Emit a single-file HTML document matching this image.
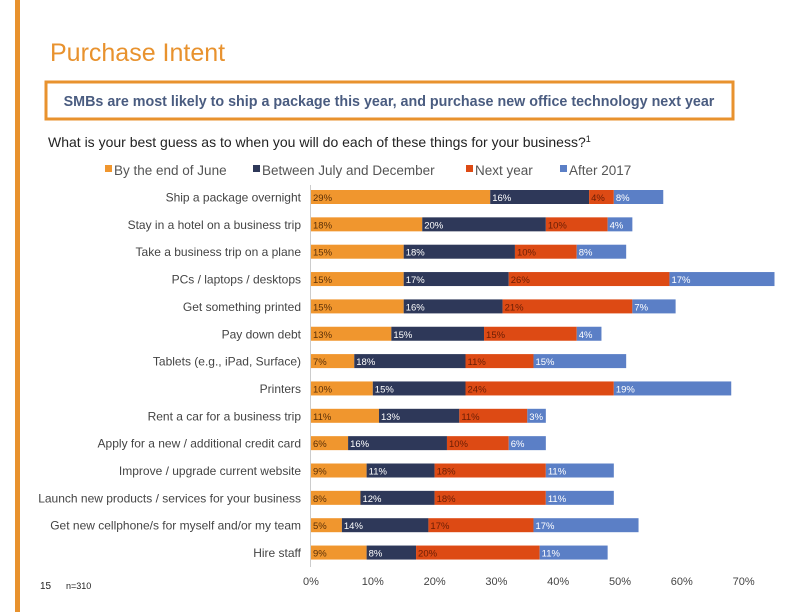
<!DOCTYPE html>
<html><head><meta charset="utf-8"><style>
body{margin:0;background:#fff;}
svg{display:block;font-family:"Liberation Sans",sans-serif;}
</style></head><body>
<svg id="c" width="792" height="612" xmlns="http://www.w3.org/2000/svg">
<rect x="15" y="0" width="5" height="612" fill="#E8922E"/>
<text x="50" y="61" font-size="25" fill="#E8922E">Purchase Intent</text>
<rect x="46" y="82" width="687" height="37" fill="none" stroke="#E8922E" stroke-width="3"/>
<text x="389" y="106" font-size="14.3" font-weight="bold" fill="#4A5C80" text-anchor="middle">SMBs are most likely to ship a package this year, and purchase new office technology next year</text>
<text x="48" y="147" font-size="14" fill="#222">What is your best guess as to when you will do each of these things for your business?<tspan font-size="9" dy="-5">1</tspan></text>
<g id="legend"></g>
<g id="bars"></g>
<line x1="310.5" y1="185" x2="310.5" y2="567" stroke="#ccc"/>
<g id="xt"></g>
<text x="40" y="589" font-size="10" fill="#222">15</text>
<text x="66" y="589" font-size="9" fill="#222">n=310</text>
</svg>
<script>
const categories=["Ship a package overnight","Stay in a hotel on a business trip","Take a business trip on a plane","PCs / laptops / desktops","Get something printed","Pay down debt","Tablets (e.g., iPad, Surface)","Printers","Rent a car for a business trip","Apply for a new / additional credit card","Improve / upgrade current website","Launch new products / services for your business","Get new cellphone/s for myself and/or my team","Hire staff"];
const seriesNames=["By the end of June","Between July and December","Next year","After 2017"];
const byJune=[29,18,15,15,15,13,7,10,11,6,9,8,5,9];
const julDec=[16,20,18,17,16,15,18,15,13,16,11,12,14,8];
const nextYear=[4,10,10,26,21,15,11,24,11,10,18,18,17,20];
const after2017=[8,4,8,17,7,4,15,19,3,6,11,11,17,11];
const xTicks=[0,10,20,30,40,50,60,70];
const colors=["#F0962E","#2E3859","#DD4A14","#5B7FC6"];
const txtColors=["#5a3008","#fff","#6a1e05","#fff"];
const NS="http://www.w3.org/2000/svg";
const x=v=>311+v*6.18;
const y=i=>197+i*27.35;
const series=[byJune,julDec,nextYear,after2017];
const bars=document.getElementById('bars');
function mk(t,a,p){const e=document.createElementNS(NS,t);for(const k in a)e.setAttribute(k,a[k]);p.appendChild(e);return e;}
categories.forEach((c,i)=>{
  const lb=mk('text',{x:301,y:y(i)+4.5,'font-size':12,fill:'#444','text-anchor':'end'},bars);
  lb.textContent=c;
  
  
  let acc=0;
  series.forEach((s,k)=>{
    const v=s[i];
    const r=mk('rect',{x:x(acc),y:y(i)-7,width:x(acc+v)-x(acc),height:14,fill:colors[k]},bars);
    
    
    const t=mk('text',{x:x(acc)+2,y:y(i)+4,'font-size':9.5,fill:txtColors[k]},bars);
    t.textContent=v+'%';
    
    
    acc+=v;
  });
});
const xt=document.getElementById('xt');
xTicks.forEach(v=>{
  const t=mk('text',{x:x(v),y:585,'font-size':11,fill:'#444','text-anchor':'middle'},xt);
  t.textContent=v+'%';
  
  
});
const lg=document.getElementById('legend');
const lx=[105,253,466,560];
seriesNames.forEach((n,k)=>{
  const r=mk('rect',{x:lx[k],y:165,width:7,height:7,fill:colors[k]},lg);
  
  
  const t=mk('text',{x:lx[k]+9,y:175,'font-size':13.5,fill:'#555'},lg);
  t.textContent=n;
  
  
});
</script>
</body></html>
